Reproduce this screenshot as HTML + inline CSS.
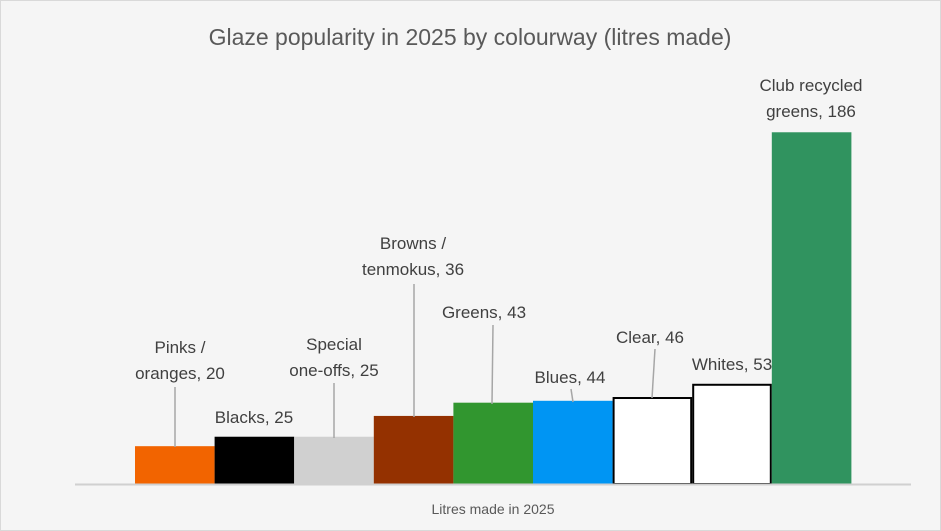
<!DOCTYPE html>
<html><head><meta charset="utf-8"><style>
body{margin:0;background:#fff}
svg{display:block;font-family:"Liberation Sans",sans-serif}
</style></head><body>
<svg width="941" height="531">
<rect x="0.5" y="0.5" width="940" height="530" fill="#f5f5f5" stroke="#d9d9d9"/>
<text x="470" y="45" text-anchor="middle" font-size="23" fill="#595959">Glaze popularity in 2025 by colourway (litres made)</text>
<g id="bars"></g>
<line x1="75" y1="484.5" x2="911" y2="484.5" stroke="#d0d0d0" stroke-width="2"/>
<g id="labels" font-size="17" fill="#404040" text-anchor="middle"></g>
<text x="493" y="514" text-anchor="middle" font-size="14" fill="#595959">Litres made in 2025</text>
</svg>
<script>
const categories=["Pinks / oranges","Blacks","Special one-offs","Browns / tenmokus","Greens","Blues","Clear","Whites","Club recycled greens"];
const values=[20,25,25,36,43,44,46,53,186];
const colors=["#f26400","#000000","#d0d0d0","#943100","#31962f","#0095f3","#ffffff","#ffffff","#30935f"];
const outlined=[false,false,false,false,false,false,true,true,false];
const labelLines=[["Pinks /","oranges, 20"],["Blacks, 25"],["Special","one-offs, 25"],["Browns /","tenmokus, 36"],["Greens, 43"],["Blues, 44"],["Clear, 46"],["Whites, 53"],["Club recycled","greens, 186"]];
const labelPos=[[180,353],[254,423],[334,350],[413,249],[484,318],[570,383],[650,343],[732,370],[811,91]];
const leaders=[[175,387,175,447],null,[334,383,334,438],[414,284,414,417],[493,325,492,404],[571,389,573,402],[655,349,652,398],null,null];
const NS="http://www.w3.org/2000/svg";
const base=484, scale=1.891, x0=135, step=79.6;
const y=v=>base-v*scale;
const x=i=>x0+i*step;
const gb=document.getElementById('bars'), gl=document.getElementById('labels');
values.forEach((v,i)=>{
  const r=document.createElementNS(NS,'rect');
  const o=outlined[i]?1:0;
  r.setAttribute('x',x(i)+o);r.setAttribute('y',y(v)+o);
  r.setAttribute('width',step-o*2);r.setAttribute('height',v*scale-o);
  r.setAttribute('fill',colors[i]);
  if(o){r.setAttribute('stroke','#000');r.setAttribute('stroke-width','2');}
  
  
  gb.appendChild(r);
  const t=document.createElementNS(NS,'text');
  t.setAttribute('x',labelPos[i][0]);t.setAttribute('y',labelPos[i][1]);
  labelLines[i].forEach((s,k)=>{const sp=document.createElementNS(NS,'tspan');sp.setAttribute('x',labelPos[i][0]);sp.setAttribute('dy',k?26:0);sp.textContent=s;t.appendChild(sp);});
  
  
  gl.appendChild(t);
  if(leaders[i]){const l=document.createElementNS(NS,'line');const L=leaders[i];
    l.setAttribute('x1',L[0]);l.setAttribute('y1',L[1]);l.setAttribute('x2',L[2]);l.setAttribute('y2',L[3]);
    l.setAttribute('stroke','#a6a6a6');l.setAttribute('stroke-width','1.5');
    
    
    gl.appendChild(l);}
});
</script>
</body></html>
